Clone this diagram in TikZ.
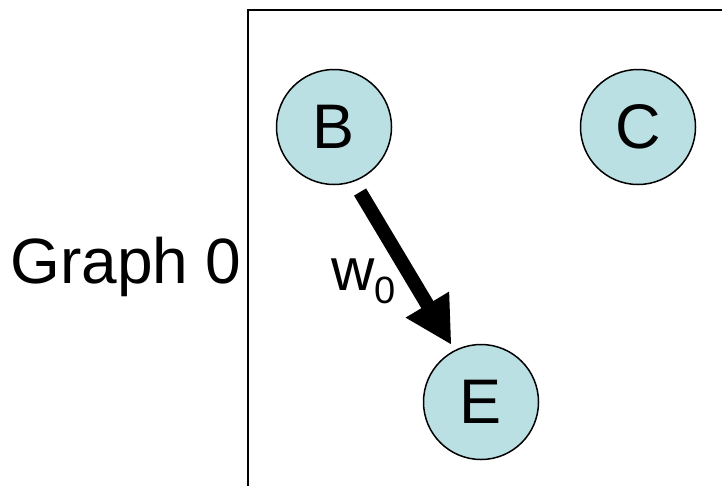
\documentclass[tikz,border=0pt]{standalone}
\usepackage{fontspec}
\setmainfont{Liberation Sans}
\usetikzlibrary{arrows.meta}
\definecolor{nodefill}{HTML}{BBE0E3}
\tikzset{
  vertex/.style={circle, draw=black, line width=1.5pt, fill=nodefill,
    minimum size=115pt, inner sep=0pt, font=\fontsize{63}{63}\selectfont},
  frameline/.style={line width=2.6pt, line cap=butt},
  edgearrow/.style={line width=14pt, -{Triangle[length=47pt,width=47pt]},
    shorten <=12pt, shorten >=6pt},
}
\begin{document}
\begin{tikzpicture}[x=1pt,y=-1pt]
  \useasboundingbox (0,0) rectangle (722,485);
  % panel frame, open at the right and bottom
  \coordinate (fbl) at (248,486);
  \coordinate (ftl) at (248,10);
  \coordinate (ftr) at (723,10);
  \draw[frameline] (fbl) -- (ftl) -- (ftr);
  % title
  \node[anchor=base, font=\fontsize{64}{64}\selectfont, inner sep=0pt] (title) at (126,283) {Graph 0};
  % vertices
  \node[vertex] (B) at (334,127) {B};
  \node[vertex] (C) at (638,127) {C};
  \node[vertex] (E) at (481,402) {E};
  % weighted edge
  \draw[edgearrow] (B.-70) -- (E.117);
  \node[anchor=base west, inner sep=0pt, font=\fontsize{60}{60}\selectfont] (w) at (331,290)
    {w\raisebox{-13pt}{\fontsize{38}{38}\selectfont 0}};
\end{tikzpicture}
\end{document}
